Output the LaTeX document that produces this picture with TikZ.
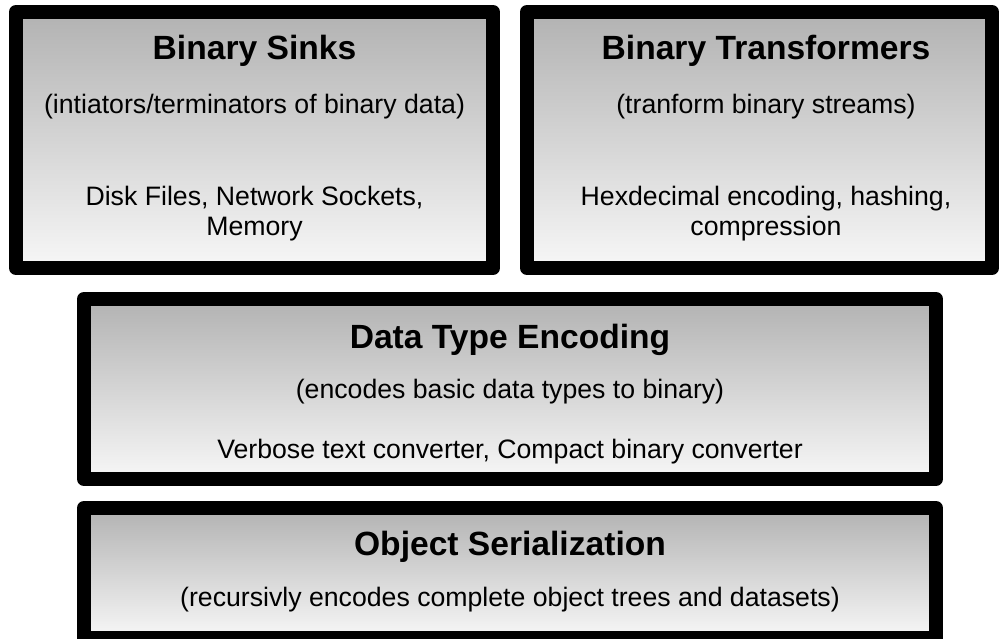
\documentclass[tikz,border=0pt]{standalone}
\usepackage{fontspec}
\setmainfont{Liberation Sans}
\begin{document}
\begin{tikzpicture}[x=0.75pt,y=-0.75pt,
  layerbox/.style={line width=10.5pt, line join=round, draw=black,
    top color={rgb,255:red,178;green,178;blue,178},
    bottom color={rgb,255:red,247;green,247;blue,247}},
  boxtitle/.style={anchor=base, inner sep=0pt, font=\fontsize{25.2pt}{29pt}\selectfont\bfseries},
  boxtext/.style={anchor=base, inner sep=0pt, align=center,
    font=\fontsize{20pt}{23pt}\selectfont}]
  \useasboundingbox (0,0) rectangle (1000,639);
  \begin{scope}
    \clip (0,0) rectangle (1000,639);
    % layer frames
    \path[layerbox] (16,12) rectangle (493,268);
    \path[layerbox] (527,12) rectangle (992,268);
    \path[layerbox] (84,299) rectangle (936,479);
    \path[layerbox] (84,508) rectangle (936,638);
  \end{scope}

  % Binary Sinks
  \node[boxtitle] (sinkT) at (254.5,60) {Binary Sinks};
  \node[boxtext] (sinkS) at (254.5,113) {(intiators/terminators of binary data)};
  \node[boxtext] (sinkE1) at (254.5,205) {Disk Files, Network Sockets,};
  \node[boxtext] (sinkE2) at (254.5,235) {Memory};

  % Binary Transformers
  \node[boxtitle] (trT) at (766,60) {Binary Transformers};
  \node[boxtext] (trS) at (766,113) {(tranform binary streams)};
  \node[boxtext] (trE1) at (766,205) {Hexdecimal encoding, hashing,};
  \node[boxtext] (trE2) at (766,235) {compression};

  % Data Type Encoding
  \node[boxtitle] (dtT) at (510,348) {Data Type Encoding};
  \node[boxtext] (dtS) at (510,398) {(encodes basic data types to binary)};
  \node[boxtext] (dtE) at (510,458) {Verbose text converter, Compact binary converter};

  % Object Serialization
  \node[boxtitle] (osT) at (510,555) {Object Serialization};
  \node[boxtext] (osS) at (510,606) {(recursivly encodes complete object trees and datasets)};
\end{tikzpicture}
\end{document}
